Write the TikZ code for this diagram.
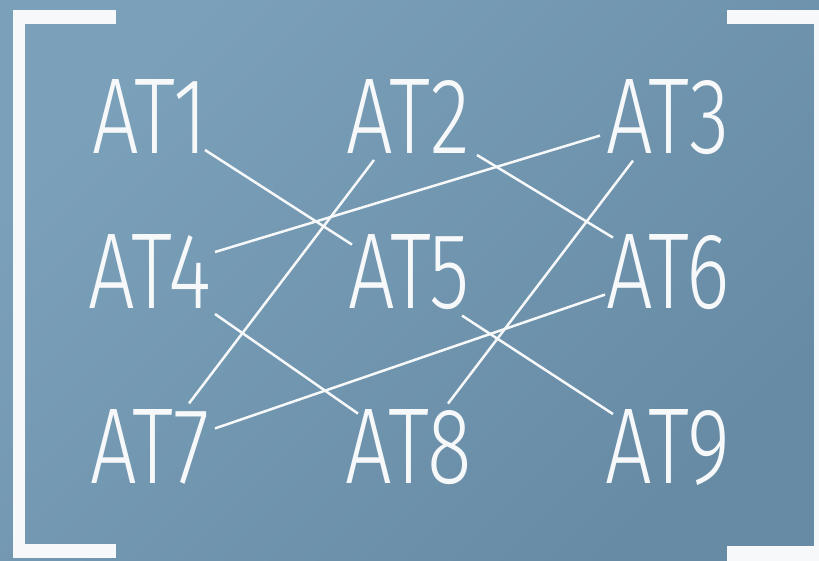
\documentclass[tikz,border=0pt]{standalone}
\usepackage{fontspec}
\usetikzlibrary{calc}
\IfFontExistsTF{Fira Sans Light}
  {\newfontfamily\atfont{Fira Sans Light}}
  {\newfontfamily\atfont{Fira Sans}}
\definecolor{bgTL}{RGB}{123,160,185}
\definecolor{bgBR}{RGB}{103,139,164}
\definecolor{ink}{RGB}{246,248,250}
\newsavebox\atprobe
\newlength\atprobeht
\newlength\atprobewd
\newcommand\atlabel[1]{\scalebox{\atsx}[\atsy]{\atfont\fontsize{100}{100}\selectfont #1}}
% scale factors for the condensed labels: cap height 74, width 122
\AtBeginDocument{%
  \sbox\atprobe{\atfont\fontsize{100}{100}\selectfont AT5}%
  \setlength\atprobeht{\ht\atprobe}%
  \setlength\atprobewd{\wd\atprobe}%
  \pgfmathsetmacro\atsy{74pt/\atprobeht}%
  \pgfmathsetmacro\atsx{122pt/\atprobewd}%
  \xdef\atsy{\atsy}\xdef\atsx{\atsx}}
\begin{document}
\begin{tikzpicture}[x=1pt,y=-1pt,
  bracket/.style={fill=ink},
  link/.style={draw=ink,line width=2.5pt},
  lbl/.style={text=ink,inner sep=0pt,anchor=base}]
\useasboundingbox (0,0) rectangle (819,560);
\clip (0,0) rectangle (819,560);
\shade[top color=bgTL,bottom color=bgBR,shading angle=45] (0,0) rectangle (819,560);

% square brackets
\fill[bracket] (13,10) rectangle (116,24);
\fill[bracket] (13,10) rectangle (25,558);
\fill[bracket] (13,544) rectangle (116,558);
\fill[bracket] (727,10) rectangle (830,24);
\fill[bracket] (814,10) rectangle (830,565);
\fill[bracket] (727,546) rectangle (830,565);

% labels
\node[lbl] (AT1) at (150,153) {\atlabel{AT1}};
\node[lbl] (AT2) at (408,153) {\atlabel{AT2}};
\node[lbl] (AT3) at (668,153) {\atlabel{AT3}};
\node[lbl] (AT4) at (150,308) {\atlabel{AT4}};
\node[lbl] (AT5) at (409,308) {\atlabel{AT5}};
\node[lbl] (AT6) at (668,308) {\atlabel{AT6}};
\node[lbl] (AT7) at (150,483) {\atlabel{AT7}};
\node[lbl] (AT8) at (409,483) {\atlabel{AT8}};
\node[lbl] (AT9) at (668,483) {\atlabel{AT9}};

% connectors
\draw[link] ($(AT1)+(55,34)$) -- ($(AT5)+(-57,-27)$);
\draw[link] ($(AT2)+(-34,44)$) -- ($(AT7)+(39,-43)$);
\draw[link] ($(AT3)+(-68,19)$) -- ($(AT4)+(65,-19)$);
\draw[link] ($(AT2)+(69,39)$) -- ($(AT6)+(-55,-34)$);
\draw[link] ($(AT3)+(-35,44)$) -- ($(AT8)+(39,-43)$);
\draw[link] ($(AT4)+(65,43)$) -- ($(AT8)+(-51,-33)$);
\draw[link] ($(AT5)+(53,44)$) -- ($(AT9)+(-55,-33)$);
\draw[link] ($(AT6)+(-63,23)$) -- ($(AT7)+(65,-18)$);
\end{tikzpicture}
\end{document}
